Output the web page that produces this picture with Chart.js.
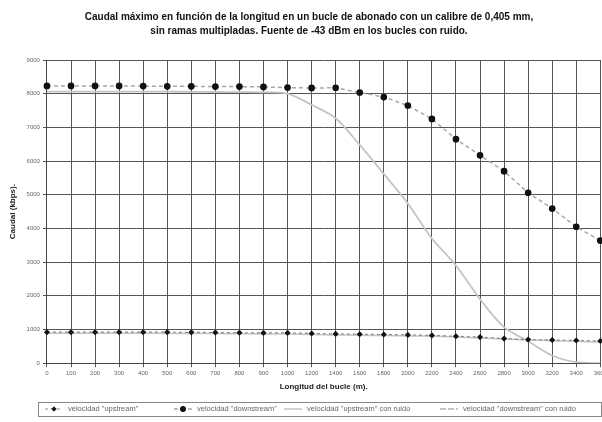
<!DOCTYPE html>
<html>
<head>
<meta charset="utf-8">
<script src="https://cdn.jsdelivr.net/npm/chart.js@4.4.0/dist/chart.umd.min.js"></script>
<style>
  html, body { margin: 0; padding: 0; background: #fff; overflow: hidden; }
  #wrap { width: 610px; height: 422px; position: relative; }
</style>
</head>
<body>
<div id="wrap"><canvas id="grafico"></canvas></div>
<script>
// Longitud del bucle (m)
const longitudes = ['0','100','200','300','400','500','600','700','800','900','1000',
  '1200','1400','1600','1800','2000','2200','2400','2600','2800','3000','3200','3400','3600'];

// Caudal (kbps)
const upstream = [920,920,920,920,920,920,915,910,905,900,900,
  880,870,860,850,840,825,800,775,730,700,690,675,660];
const downstream = [8230,8230,8230,8230,8225,8220,8220,8210,8210,8200,8180,
  8170,8175,8035,7900,7650,7250,6650,6170,5700,5060,4590,4050,3640];
const upstreamRuido = [890,890,890,890,890,885,885,880,875,870,865,
  850,840,830,820,810,800,780,750,720,690,670,650,630];
const downstreamRuido = [8060,8060,8060,8060,8060,8060,8055,8050,8045,8040,8000,
  7670,7270,6480,5620,4740,3700,2900,1900,1070,650,230,30,0];

const yTicks = [0,1000,2000,3000,4000,5000,6000,7000,8000,9000];

// Leyenda dibujada a mano, dentro de un recuadro, como en el original
const posLeyenda = [45, 174, 284, 440];
const leyendaPropia = {
  id: 'leyendaPropia',
  afterDraw(chart) {
    const ctx = chart.ctx;
    const y = 409;
    ctx.save();
    ctx.strokeStyle = '#888';
    ctx.lineWidth = 1;
    ctx.strokeRect(38.5, 402.5, 563, 14);
    ctx.font = '7.5px "Liberation Sans"';
    ctx.textBaseline = 'middle';
    chart.data.datasets.forEach((ds, i) => {
      const x = posLeyenda[i];
      ctx.save();
      ctx.strokeStyle = ds.borderColor;
      ctx.lineWidth = ds.borderWidth;
      ctx.setLineDash(ds.legendDash || ds.borderDash || []);
      ctx.beginPath();
      ctx.moveTo(x, y);
      ctx.lineTo(x + 18, y);
      ctx.stroke();
      ctx.restore();
      if (ds.pointRadius > 0) {
        ctx.fillStyle = ds.pointBackgroundColor;
        ctx.strokeStyle = ds.pointBorderColor;
        Chart.helpers.drawPoint(ctx, { pointStyle: ds.pointStyle, radius: ds.pointRadius, rotation: 0, borderWidth: 1 }, x + 9, y);
      }
      ctx.fillStyle = '#666';
      ctx.fillText(ds.label, x + 23, y);
    });
    ctx.restore();
  }
};

const ctx = document.getElementById('grafico').getContext('2d');
new Chart(ctx, {
  type: 'line',
  data: {
    labels: longitudes,
    datasets: [{
      label: 'velocidad "upstream"',
      data: upstream,
      borderColor: '#8a8a8a',
      borderWidth: 1.2,
      borderDash: [3, 3],
      pointStyle: 'rectRot',
      pointRadius: 2.2,
      pointBackgroundColor: '#111',
      pointBorderColor: '#111',
      tension: 0
    }, {
      label: 'velocidad "downstream"',
      data: downstream,
      borderColor: '#a8a8a8',
      borderWidth: 1.5,
      borderDash: [4, 3],
      pointStyle: 'circle',
      pointRadius: 2.6,
      pointBackgroundColor: '#111',
      pointBorderColor: '#111',
      tension: 0
    }, {
      label: 'velocidad "upstream" con ruido',
      data: upstreamRuido,
      borderColor: '#c4c4c4',
      borderWidth: 1.5,
      pointRadius: 0,
      tension: 0.3
    }, {
      label: 'velocidad "downstream" con ruido',
      data: downstreamRuido,
      borderColor: '#c4c4c4',
      borderWidth: 1.8,
      legendDash: [6, 2],
      pointRadius: 0,
      tension: 0.3
    }]
  },
  options: {
    responsive: true,
    maintainAspectRatio: false,
    animation: false,
    layout: { padding: { left: 8, right: 0, top: 0, bottom: 28 } },
    plugins: {
      title: {
        display: true,
        text: ['Caudal máximo en función de la longitud en un bucle de abonado con un calibre de 0,405 mm,',
               'sin ramas multipladas. Fuente de -43 dBm en los bucles con ruido.'],
        font: { family: 'Liberation Sans', size: 10, weight: 'bold', lineHeight: 1.4 },
        color: '#111',
        padding: { top: 10, bottom: 22 }
      },
      legend: { display: false },
      tooltip: { enabled: false }
    },
    scales: {
      x: {
        offset: false,
        grid: { color: '#555', lineWidth: 1, drawTicks: true, tickLength: 4 },
        border: { color: '#444' },
        ticks: { font: { family: 'Liberation Sans', size: 6 }, color: '#666', maxRotation: 0, autoSkip: false, padding: 3 },
        title: {
          display: true,
          text: 'Longitud del bucle (m).',
          font: { family: 'Liberation Sans', size: 8, weight: 'bold' },
          color: '#222',
          padding: { top: 2, bottom: 2 }
        }
      },
      y: {
        min: 0,
        max: 9000,
        afterBuildTicks(axis) { axis.ticks = yTicks.map(v => ({ value: v })); },
        grid: { color: '#555', lineWidth: 1, tickLength: 4 },
        border: { color: '#444' },
        ticks: {
          font: { family: 'Liberation Sans', size: 6 },
          color: '#666',
          padding: 3,
          callback: v => String(v)
        },
        title: {
          display: true,
          text: 'Caudal (kbps).',
          font: { family: 'Liberation Sans', size: 8, weight: 'bold' },
          color: '#222',
          padding: { top: 0, bottom: 6 }
        }
      }
    }
  },
  plugins: [leyendaPropia]
});
</script>
</body>
</html>
